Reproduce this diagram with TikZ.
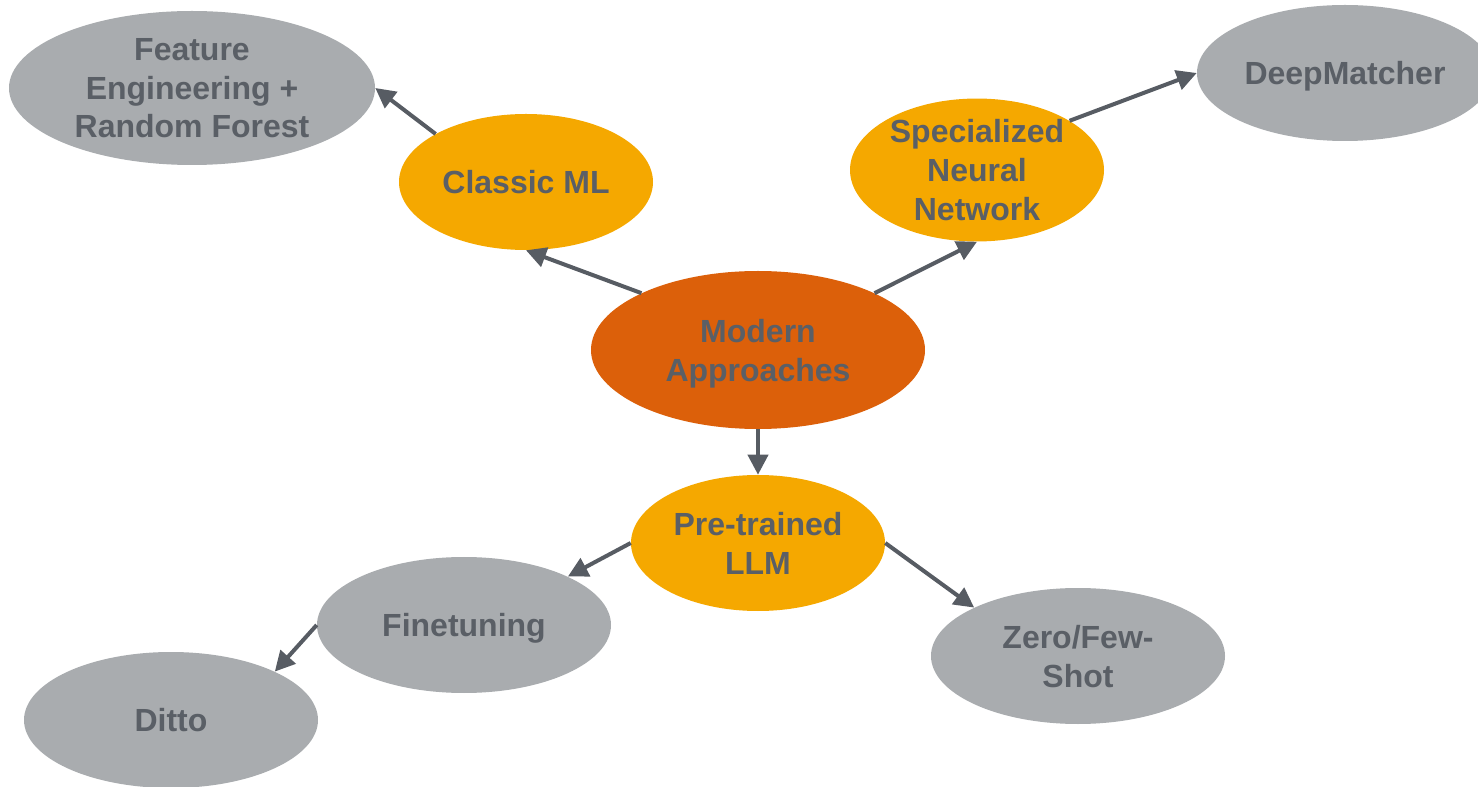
\documentclass[tikz,border=0pt]{standalone}
\usepackage{fontspec}
\setmainfont{Liberation Sans}
\usetikzlibrary{shapes.geometric,arrows.meta}
\definecolor{corange}{HTML}{DC600A}
\definecolor{cyellow}{HTML}{F5A800}
\definecolor{cgrey}{HTML}{A9ACAF}
\definecolor{ctext}{HTML}{5A5F66}
\definecolor{carrow}{HTML}{575C63}
\begin{document}
\begin{tikzpicture}[x=0.75pt,y=-0.75pt,
  bub/.style={ellipse,inner sep=0pt,draw=none,align=center,text=ctext,text depth=0pt,
    font=\fontsize{24pt}{29.2pt}\selectfont\bfseries},
  root/.style={bub,fill=corange,minimum width=250.5pt,minimum height=118.5pt},
  mid/.style={bub,fill=cyellow,minimum width=190.5pt,minimum height=102pt},
  leaf/.style={bub,fill=cgrey,minimum width=220.5pt,minimum height=102pt},
  conn/.style={draw=carrow,line width=3pt,-{Triangle[length=15pt,width=15pt]}}]
\useasboundingbox (0,0) rectangle (1478,787);
\node[leaf,minimum width=274.5pt,minimum height=115.5pt] (fe) at (192,88) {Feature\\Engineering +\\Random Forest};
\node[mid] (cml) at (526,182) {Classic ML};
\node[mid] (spec) at (977,170) {Specialized\\Neural\\Network};
\node[leaf,minimum width=222pt] (dm) at (1345,73) {DeepMatcher};
\node[root] (m) at (758,350) {Modern\\Approaches};
\node[mid] (llm) at (758,543) {Pre-trained\\LLM};
\node[leaf] (fine) at (464,625) {Finetuning};
\node[leaf] (ditto) at (171,720) {Ditto};
\node[leaf] (zero) at (1078,656) {Zero/Few-\\Shot};
\draw[conn] (m.154) -- (cml.south);
\draw[conn] (m.26) -- (spec.south);
\draw[conn] (m.south) -- (llm.north);
\draw[conn] (cml.152) -- (fe.east);
\draw[conn] (spec.28) -- (dm.west);
\draw[conn] (llm.west) -- (fine.25);
\draw[conn] (llm.east) -- (zero.155);
\draw[conn] (fine.west) -- (ditto.25);
\end{tikzpicture}
\end{document}
